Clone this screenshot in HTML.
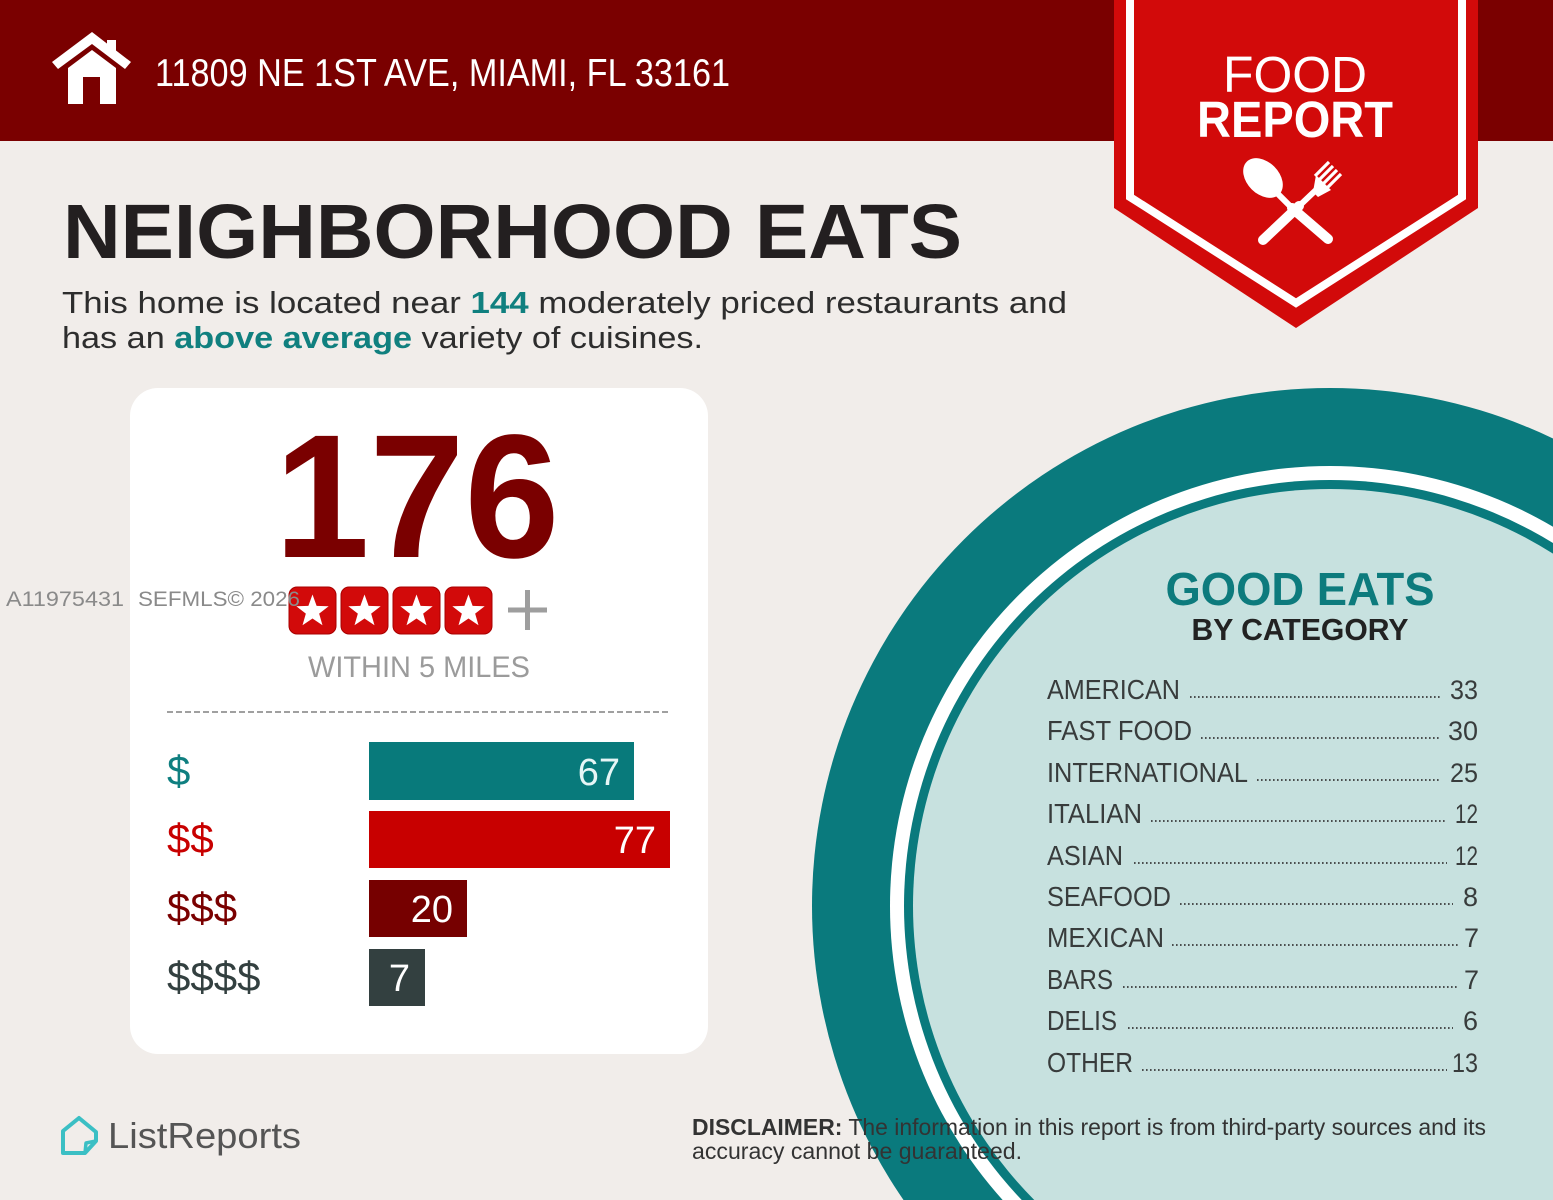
<!DOCTYPE html>
<html><head><meta charset="utf-8"><style>
html,body{margin:0;padding:0;background:#f1edea;width:1553px;height:1200px;overflow:hidden;}
svg{display:block;}
text{font-family:"Liberation Sans",sans-serif;}
</style></head><body>
<svg width="1553" height="1200" viewBox="0 0 1553 1200" xmlns="http://www.w3.org/2000/svg">
<rect x="0" y="0" width="1553" height="1200" fill="#f1edea"/>
<!-- header -->
<rect x="0" y="0" width="1553" height="141" fill="#7a0000"/>
<!-- house icon -->
<polygon points="52,62 92,32 131,62 125,69 92,44 58,69" fill="#fff"/>
<rect x="107" y="40" width="9" height="14" fill="#fff"/>
<path d="M68,68 L92,50 L116,68 V104 H100 V77 H83 V104 H68 Z" fill="#fff"/>
<text x="155" y="86" font-size="39" fill="#fff" textLength="575" lengthAdjust="spacingAndGlyphs">11809 NE 1ST AVE, MIAMI, FL 33161</text>

<!-- ribbon -->
<polygon points="1114,0 1478,0 1478,208 1296,328 1114,208" fill="#d20a0a"/>
<polyline points="1130,0 1130,197 1296,303 1462,197 1462,0" fill="none" stroke="#fff" stroke-width="8"/>
<text x="1295" y="92" font-size="51" fill="#fff" text-anchor="middle" textLength="144" lengthAdjust="spacingAndGlyphs">FOOD</text>
<text x="1295" y="137" font-size="51" font-weight="bold" fill="#fff" text-anchor="middle" textLength="196" lengthAdjust="spacingAndGlyphs">REPORT</text>
<!-- spoon -->
<ellipse cx="1263" cy="178" rx="23" ry="16" transform="rotate(45 1263 178)" fill="#fff"/>
<line x1="1270" y1="186" x2="1294" y2="210" stroke="#fff" stroke-width="6"/>
<line x1="1292" y1="208" x2="1328" y2="239" stroke="#fff" stroke-width="10" stroke-linecap="round"/>
<!-- fork -->
<line x1="1263" y1="240" x2="1299" y2="206" stroke="#fff" stroke-width="10" stroke-linecap="round"/>
<line x1="1296" y1="209" x2="1317" y2="189" stroke="#fff" stroke-width="6"/>
<polygon points="1313,192 1318,197 1331,190 1316,175" fill="#fff"/>
<line x1="1315" y1="176" x2="1329" y2="162" stroke="#fff" stroke-width="3.2"/>
<line x1="1319" y1="180" x2="1333" y2="166" stroke="#fff" stroke-width="3.2"/>
<line x1="1323" y1="184" x2="1337" y2="170" stroke="#fff" stroke-width="3.2"/>
<line x1="1327" y1="188" x2="1341" y2="174" stroke="#fff" stroke-width="3.2"/>

<!-- title -->
<text x="63" y="258" font-size="77" font-weight="bold" fill="#231f20" textLength="899" lengthAdjust="spacingAndGlyphs">NEIGHBORHOOD EATS</text>
<text x="62" y="313" font-size="31" fill="#2d2d2d" textLength="1005" lengthAdjust="spacingAndGlyphs">This home is located near <tspan font-weight="bold" fill="#10807f">144</tspan> moderately priced restaurants and</text>
<text x="62" y="348" font-size="31" fill="#2d2d2d" textLength="641" lengthAdjust="spacingAndGlyphs">has an <tspan font-weight="bold" fill="#10807f">above average</tspan> variety of cuisines.</text>

<!-- circle -->
<circle cx="1330" cy="906" r="518" fill="#0a7a7d"/>
<circle cx="1330" cy="906" r="440" fill="#ffffff"/>
<circle cx="1330" cy="906" r="426" fill="#0a7a7d"/>
<circle cx="1330" cy="906" r="417" fill="#c7e1df"/>

<text x="1300" y="605" font-size="46" font-weight="bold" fill="#0d7b7d" text-anchor="middle" textLength="269" lengthAdjust="spacingAndGlyphs">GOOD EATS</text>
<text x="1300" y="640" font-size="31" font-weight="bold" fill="#222" text-anchor="middle" textLength="217" lengthAdjust="spacingAndGlyphs">BY CATEGORY</text>

<g font-size="28" fill="#383c3c">
<text x="1047" y="699" textLength="133" lengthAdjust="spacingAndGlyphs">AMERICAN</text>
<text x="1047" y="740" textLength="145" lengthAdjust="spacingAndGlyphs">FAST FOOD</text>
<text x="1047" y="782" textLength="201" lengthAdjust="spacingAndGlyphs">INTERNATIONAL</text>
<text x="1047" y="823" textLength="95" lengthAdjust="spacingAndGlyphs">ITALIAN</text>
<text x="1047" y="865" textLength="76" lengthAdjust="spacingAndGlyphs">ASIAN</text>
<text x="1047" y="906" textLength="124" lengthAdjust="spacingAndGlyphs">SEAFOOD</text>
<text x="1047" y="947" textLength="117" lengthAdjust="spacingAndGlyphs">MEXICAN</text>
<text x="1047" y="989" textLength="66" lengthAdjust="spacingAndGlyphs">BARS</text>
<text x="1047" y="1030" textLength="70" lengthAdjust="spacingAndGlyphs">DELIS</text>
<text x="1047" y="1072" textLength="86" lengthAdjust="spacingAndGlyphs">OTHER</text>
</g>
<g font-size="27" fill="#383c3c">
<text x="1450" y="699" textLength="28" lengthAdjust="spacingAndGlyphs">33</text>
<text x="1448" y="740" textLength="30" lengthAdjust="spacingAndGlyphs">30</text>
<text x="1450" y="782" textLength="28" lengthAdjust="spacingAndGlyphs">25</text>
<text x="1455" y="823" textLength="23" lengthAdjust="spacingAndGlyphs">12</text>
<text x="1455" y="865" textLength="23" lengthAdjust="spacingAndGlyphs">12</text>
<text x="1463" y="906">8</text>
<text x="1464" y="947">7</text>
<text x="1464" y="989">7</text>
<text x="1463" y="1030">6</text>
<text x="1452" y="1072" textLength="26" lengthAdjust="spacingAndGlyphs">13</text>
</g>
<g stroke="#4a4e4e" stroke-width="2" stroke-dasharray="1.6 2.4">
<line x1="1190" y1="697" x2="1442" y2="697"/>
<line x1="1201" y1="738" x2="1440" y2="738"/>
<line x1="1257" y1="780" x2="1440" y2="780"/>
<line x1="1151" y1="821" x2="1447" y2="821"/>
<line x1="1134" y1="863" x2="1447" y2="863"/>
<line x1="1180" y1="904" x2="1453" y2="904"/>
<line x1="1172" y1="945" x2="1458" y2="945"/>
<line x1="1123" y1="987" x2="1458" y2="987"/>
<line x1="1128" y1="1028" x2="1453" y2="1028"/>
<line x1="1142" y1="1070" x2="1447" y2="1070"/>
</g>

<!-- card -->
<rect x="130" y="388" width="578" height="666" rx="28" fill="#ffffff"/>
<text x="417" y="557" font-size="176" font-weight="bold" fill="#7a0000" text-anchor="middle" textLength="285" lengthAdjust="spacingAndGlyphs">176</text>
<g fill="#d20a0a" stroke="#a80000" stroke-width="1">
<rect x="289" y="587" width="47" height="47" rx="8"/>
<rect x="341" y="587" width="47" height="47" rx="8"/>
<rect x="393" y="587" width="47" height="47" rx="8"/>
<rect x="445" y="587" width="47" height="47" rx="8"/>
</g>
<g fill="#fff">
<polygon transform="translate(312.5 611.5)" points="0,-17 4.11,-5.66 16.17,-5.25 6.66,2.16 9.99,13.75 0,7 -9.99,13.75 -6.66,2.16 -16.17,-5.25 -4.11,-5.66"/>
<polygon transform="translate(364.5 611.5)" points="0,-17 4.11,-5.66 16.17,-5.25 6.66,2.16 9.99,13.75 0,7 -9.99,13.75 -6.66,2.16 -16.17,-5.25 -4.11,-5.66"/>
<polygon transform="translate(416.5 611.5)" points="0,-17 4.11,-5.66 16.17,-5.25 6.66,2.16 9.99,13.75 0,7 -9.99,13.75 -6.66,2.16 -16.17,-5.25 -4.11,-5.66"/>
<polygon transform="translate(468.5 611.5)" points="0,-17 4.11,-5.66 16.17,-5.25 6.66,2.16 9.99,13.75 0,7 -9.99,13.75 -6.66,2.16 -16.17,-5.25 -4.11,-5.66"/>
</g>
<g stroke="#9e9e9e" stroke-width="5">
<line x1="508" y1="610" x2="547" y2="610"/>
<line x1="527.5" y1="590" x2="527.5" y2="630"/>
</g>
<text x="419" y="677" font-size="30" fill="#9b9b9b" text-anchor="middle" textLength="222" lengthAdjust="spacingAndGlyphs">WITHIN 5 MILES</text>
<line x1="167" y1="712" x2="670" y2="712" stroke="#a0a0a0" stroke-width="2" stroke-dasharray="6 3"/>

<g font-size="42">
<text x="167" y="785" fill="#0f7f80">$</text>
<text x="167" y="853" fill="#c80000">$$</text>
<text x="167" y="922" fill="#7a0000">$$$</text>
<text x="167" y="991" fill="#334040">$$$$</text>
</g>
<rect x="369" y="742" width="265" height="58" fill="#087a7b"/>
<rect x="369" y="811" width="301" height="57" fill="#c80000"/>
<rect x="369" y="880" width="98" height="57" fill="#760000"/>
<rect x="369" y="949" width="56" height="57" fill="#334040"/>
<g font-size="38" fill="#fff" text-anchor="end">
<text x="620" y="785" fill="#e6f6f6">67</text>
<text x="656" y="853">77</text>
<text x="453" y="922">20</text>
<text x="410" y="991">7</text>
</g>

<!-- watermark -->
<text x="6" y="606" font-size="21" fill="#8a8a8a" textLength="118" lengthAdjust="spacingAndGlyphs">A11975431</text>
<text x="138" y="606" font-size="21" fill="#8a8a8a" textLength="162" lengthAdjust="spacingAndGlyphs">SEFMLS© 2026</text>

<!-- ListReports -->
<path d="M63,1131 L79,1118 L96,1132 L96,1141 L85,1153 L63,1153 Z" fill="none" stroke="#3bbfc4" stroke-width="4" stroke-linejoin="round"/>
<path d="M85,1153 L86,1143 L96,1141" fill="none" stroke="#3bbfc4" stroke-width="3.5" stroke-linejoin="round"/>
<text x="108" y="1148" font-size="36" fill="#555" textLength="193" lengthAdjust="spacingAndGlyphs">ListReports</text>

<!-- disclaimer -->
<text x="692" y="1135" font-size="23" fill="#333" textLength="794" lengthAdjust="spacingAndGlyphs"><tspan font-weight="bold">DISCLAIMER:</tspan> The information in this report is from third-party sources and its</text>
<text x="692" y="1159" font-size="23" fill="#333" textLength="330" lengthAdjust="spacingAndGlyphs">accuracy cannot be guaranteed.</text>
</svg>
</body></html>
